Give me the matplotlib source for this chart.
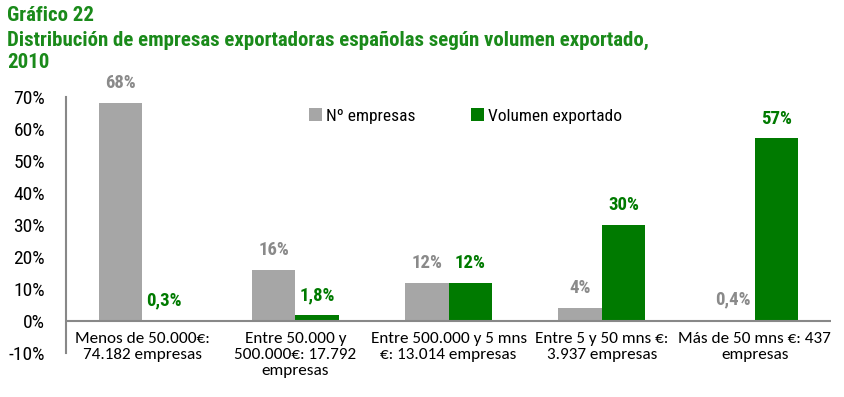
import matplotlib
matplotlib.use("Agg")
import matplotlib.pyplot as plt
import numpy as np

categories = ["Menos de 50.000€:\n74.182 empresas",
              "Entre 50.000 y\n500.000€: 17.792\nempresas",
              "Entre 500.000 y 5 mns\n€: 13.014 empresas",
              "Entre 5 y 50 mns €:\n3.937 empresas",
              "Más de 50 mns €: 437\nempresas"]
n_empresas = [68, 16, 12, 4, 0.4]
volumen = [0.3, 1.8, 12, 30, 57]
labels_emp = ["68%", "16%", "12%", "4%", "0,4%"]
labels_vol = ["0,3%", "1,8%", "12%", "30%", "57%"]
yticks = [-10, 0, 10, 20, 30, 40, 50, 60, 70]

narrow = "Roboto Condensed"
body = "Carlito"

GRAY = "#a6a6a6"
GREEN = "#007a00"
TITLE_GREEN = "#1a8a1a"

fig = plt.figure(figsize=(8.44, 3.97), dpi=100)
ax = fig.add_axes([0.078, 0.111, 0.907, 0.645])

x = np.arange(len(categories))
w = 0.285
ax.bar(x - w/2, n_empresas, w, color=GRAY, label="Nº empresas")
ax.bar(x + w/2, volumen, w, color=GREEN, label="Volumen exportado")

for xi, v, l in zip(x, n_empresas, labels_emp):
    ax.text(xi - w/2, v + 3.4, l, ha="center", va="bottom", color="#8a8a8a",
            fontsize=13.5, fontweight="bold", family=narrow)
for xi, v, l in zip(x, volumen, labels_vol):
    ax.text(xi + w/2, v + 3.4, l, ha="center", va="bottom", color=GREEN,
            fontsize=13.5, fontweight="bold", family=narrow)

ax.set_xlim(-0.5, len(categories) - 0.5)
ax.set_ylim(-10, 70)
ax.set_yticks(yticks)
ax.set_yticklabels([f"{t}%" for t in yticks], family=narrow, fontsize=14)
ax.tick_params(axis="y", length=0, pad=15)
ax.set_xticks([])
for s in ["top", "right", "bottom"]:
    ax.spines[s].set_visible(False)
ax.spines["left"].set_color("#888888")
ax.spines["left"].set_linewidth(1.5)
ax.axhline(0, color="#888888", lw=1.5, zorder=3)

for xi, c in zip(x, categories):
    ax.text(xi, -3.6, c, ha="center", va="top", fontsize=12.3, family=body,
            linespacing=1.15)

ax.legend(loc="center", bbox_to_anchor=(0.522, 0.925), ncol=2, frameon=False,
          prop={"family": narrow, "size": 12.5}, handlelength=0.75, handleheight=0.75,
          handletextpad=0.25, columnspacing=3.2)

tkw = dict(color=TITLE_GREEN, fontsize=15, fontweight="bold", family=narrow, va="center")
fig.text(0.008, 0.962, "Gráfico 22", **tkw)
fig.text(0.008, 0.898, "Distribución de empresas exportadoras españolas según volumen exportado,", **tkw)
fig.text(0.008, 0.842, "2010", **tkw)

fig.savefig("out.png", dpi=100)
